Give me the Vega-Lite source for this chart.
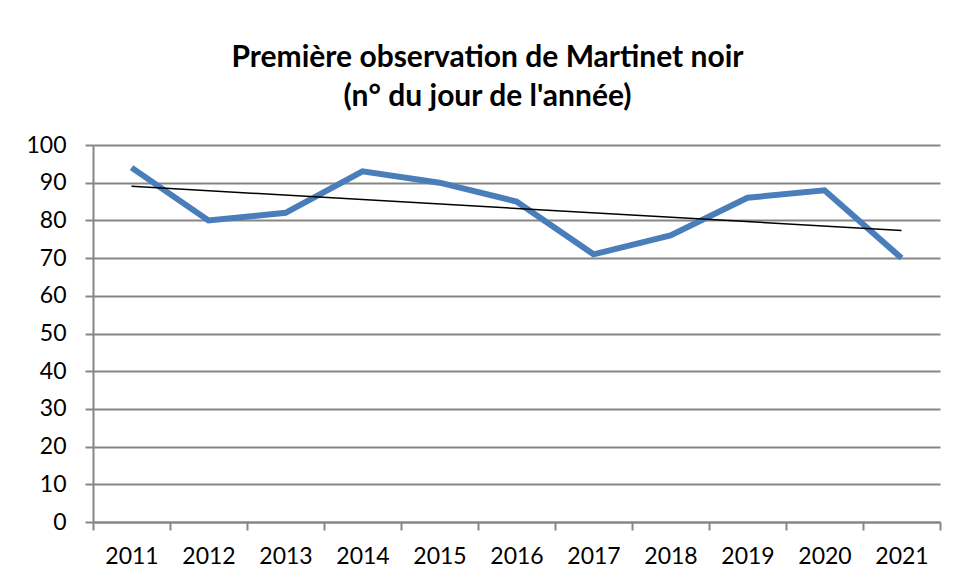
{
  "$schema": "https://vega.github.io/schema/vega-lite/v6.json",
  "autosize": {"type": "none"},
  "width": 847,
  "height": 377,
  "padding": {"left": 93, "top": 145, "right": 17, "bottom": 60},
  "background": "white",
  "title": {
    "text": ["Première observation de Martinet noir", "(n° du jour de l'année)"],
    "font": "Lato",
    "fontSize": 30,
    "fontWeight": "bold",
    "color": "black",
    "anchor": "middle",
    "dx": -29,
    "offset": 22,
    "lineHeight": 39
  },
  "datasets": {
    "obs": [
      {"annee": "2011", "jour": 94},
      {"annee": "2012", "jour": 80},
      {"annee": "2013", "jour": 82},
      {"annee": "2014", "jour": 93},
      {"annee": "2015", "jour": 90},
      {"annee": "2016", "jour": 85},
      {"annee": "2017", "jour": 71},
      {"annee": "2018", "jour": 76},
      {"annee": "2019", "jour": 86},
      {"annee": "2020", "jour": 88},
      {"annee": "2021", "jour": 70}
    ],
    "tendance": [
      {"annee": "2011", "jour": 89.05},
      {"annee": "2021", "jour": 77.32}
    ]
  },
  "config": {
    "view": {"stroke": null},
    "axis": {
      "labelFont": "Lato",
      "labelFontSize": 23,
      "labelColor": "black",
      "labelOverlap": false,
      "domainColor": "#868686",
      "domainWidth": 2,
      "tickColor": "#868686",
      "tickWidth": 2,
      "tickSize": 8,
      "gridColor": "#868686",
      "gridWidth": 2,
      "title": null
    }
  },
  "encoding": {
    "x": {
      "field": "annee",
      "type": "ordinal",
      "scale": {"paddingInner": 0, "paddingOuter": 0},
      "axis": {"labelAngle": 0, "tickBand": "extent", "labelPadding": 15, "grid": false}
    },
    "y": {
      "field": "jour",
      "type": "quantitative",
      "scale": {"domain": [0, 100], "nice": false},
      "axis": {"values": [0, 10, 20, 30, 40, 50, 60, 70, 80, 90, 100], "tickCount": 11, "grid": true, "labelPadding": 19, "labelOverlap": false}
    }
  },
  "layer": [
    {
      "data": {"name": "obs"},
      "mark": {"type": "line", "color": "#4a7ebb", "strokeWidth": 6, "strokeJoin": "miter", "strokeCap": "butt"}
    },
    {
      "data": {"name": "tendance"},
      "mark": {"type": "line", "color": "black", "strokeWidth": 1.5}
    }
  ]
}
